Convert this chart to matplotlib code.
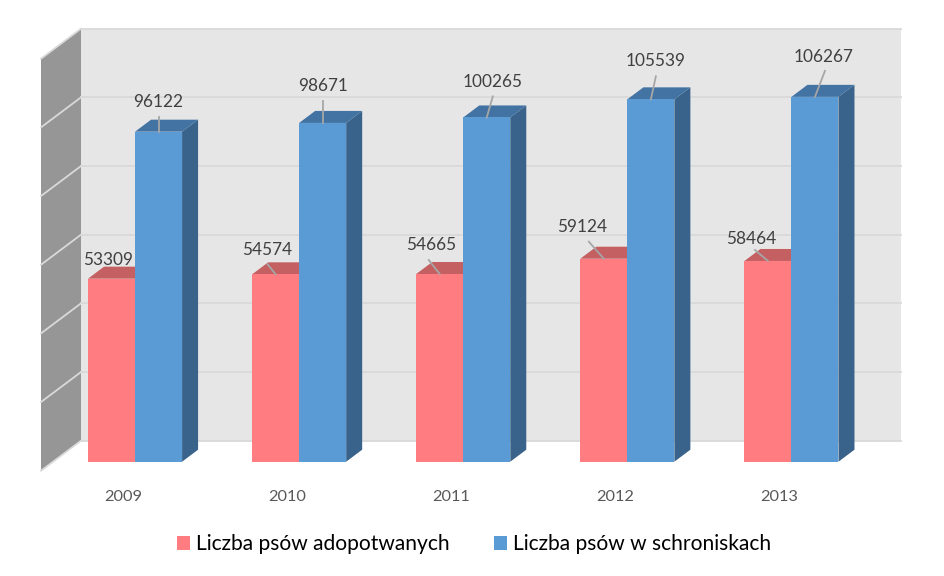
import matplotlib
matplotlib.use("Agg")
import matplotlib.pyplot as plt
from matplotlib.patches import Patch

years = ["2009", "2010", "2011", "2012", "2013"]
adopted = [53309, 54574, 54665, 59124, 58464]
sheltered = [96122, 98671, 100265, 105539, 106267]
series_names = ["Liczba psów adopotwanych", "Liczba psów w schroniskach"]
grid_values = [0, 20000, 40000, 60000, 80000, 100000, 120000]

# label offsets from the bar's top centre, and leader line ends, pixels
adopted_offsets = [(-3, 19), (-8, 24), (-9, 29), (-22, 32), (-17, 22)]
sheltered_offsets = [(0, 30), (0, 37), (6, 35), (5, 38), (9, 40)]
adopted_leaders = [None, (-8, 10), (-11, 14), (-15, 17), (-13, 11)]
sheltered_leaders = [(0, 15), (0, 22), (6, 21), (5, 23), (10, 26)]

W, H = 945, 576
plt.rcParams["font.family"] = ["Lato", "DejaVu Sans"]
fig = plt.figure(figsize=(W / 100, H / 100), dpi=100, facecolor="white")
left, right, base, top = 53, 873.5, 461.7, 49.7
ax = fig.add_axes([left / W, 1 - base / H, (right - left) / W, (base - top) / H])
ax.set_xlim(-0.5, 4.5)
ax.set_ylim(0, 120000)
ax.axis("off")

px_x = 5 / (right - left)
px_y = 120000 / (base - top)


def poly(xs, ys, color, z):
    ax.fill(xs, ys, color=color, lw=0, clip_on=False, zorder=z)


# walls
bx, by = 28 * px_x, 21 * px_y          # back plane offset
fx, fy = -12 * px_x, -9 * px_y         # front plane offset
x0, x1 = -0.5, 4.5
poly([x0 + bx, x1 + bx, x1 + bx, x0 + bx], [by, by, 120000 + by, 120000 + by], "#e6e6e6", 1)
poly([x0 + fx, x0 + bx, x0 + bx, x0 + fx], [fy, by, 120000 + by, 120000 + fy], "#969696", 1)
for g in grid_values:
    ax.plot([x0 + bx, x1 + bx], [g + by, g + by], color="#d9d9d9", lw=1.3, clip_on=False, zorder=2)
    ax.plot([x0 + fx, x0 + bx], [g + fy, g + by], color="#d9d9d9", lw=1.3, clip_on=False, zorder=2)

# bars
width = 47 / 164
dx, dy = 16 * px_x, 12 * px_y
series = [
    (adopted, -width / 2, "#ff7c80", "#c46062", "#b85a5c", adopted_offsets, adopted_leaders),
    (sheltered, width / 2, "#5b9bd5", "#4273a2", "#39638a", sheltered_offsets, sheltered_leaders),
]
for z, (vals, off, front, topc, side, offsets, leaders) in enumerate(series):
    zz = 3 + z * 2
    xs = [i + off for i in range(len(vals))]
    ax.bar(xs, vals, width=width, color=front, lw=0, clip_on=False, zorder=zz + 1)
    for x, v, (ox, oy), leader in zip(xs, vals, offsets, leaders):
        l, r = x - width / 2, x + width / 2
        poly([r, r + dx, r + dx, r], [0, dy, v + dy, v], side, zz)
        poly([l, r, r + dx, l + dx], [v, v, v + dy, v + dy], topc, zz)
        ax.annotate(
            str(v), xy=(x, v), xytext=(ox, oy), textcoords="offset pixels",
            ha="center", va="center", fontsize=12.4, color="#404040",
            annotation_clip=False, zorder=10,
        )
        if leader is not None:
            ax.plot([x, x + leader[0] * px_x], [v, v + leader[1] * px_y],
                    color="#a6a6a6", lw=1.3, clip_on=False, zorder=9)

# year labels
for i, y in enumerate(years):
    ax.annotate(y, xy=(i, 0), xytext=(-12, -35), textcoords="offset pixels", ha="center",
                va="center", fontsize=11.8, color="#595959", annotation_clip=False)

handles = [Patch(color="#ff7c80", lw=0), Patch(color="#5b9bd5", lw=0)]
fig.legend(handles, series_names, loc="center", bbox_to_anchor=(474 / W, 1 - 544.5 / H),
           ncol=2, frameon=False, fontsize=15.1, handlelength=0.62, handleheight=0.62,
           handletextpad=0.3, columnspacing=2.11, labelcolor="black")

fig.savefig("out.png", dpi=100)
